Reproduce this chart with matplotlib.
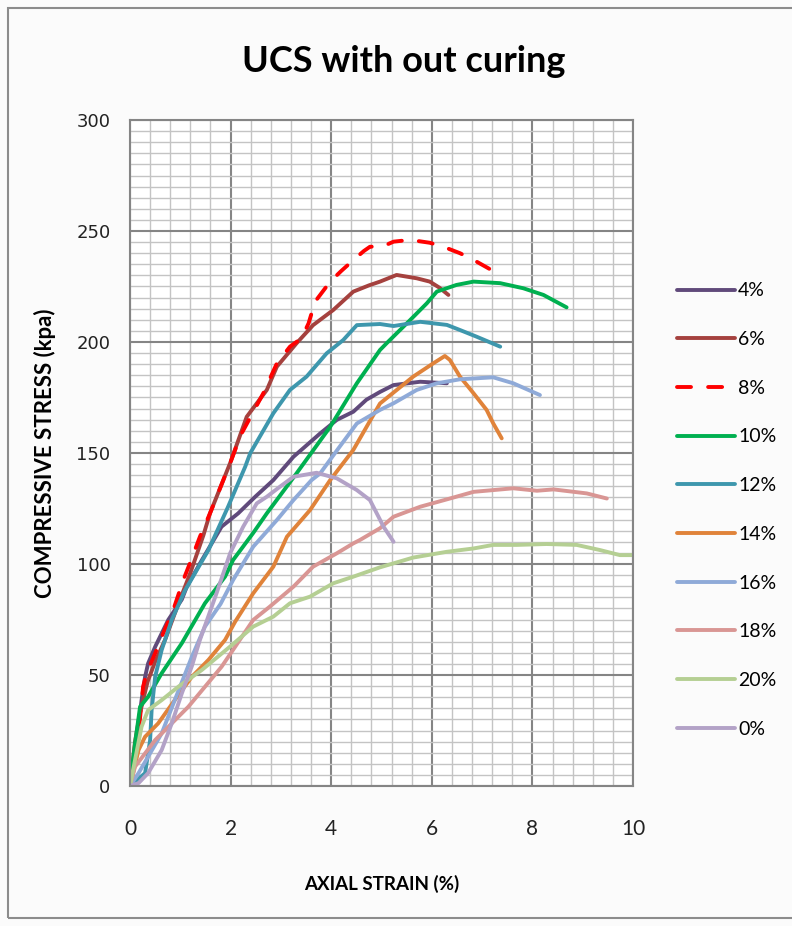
import numpy as np
import matplotlib
matplotlib.use("Agg")
import matplotlib.pyplot as plt
from matplotlib.ticker import MultipleLocator
from matplotlib.patches import Rectangle

# strain (%) / stress (kpa)
x4 = [0, 0.1, 0.23, 0.3, 0.36, 0.5, 0.76, 1.03, 1.13, 1.43, 1.82, 2.15, 2.49, 2.85, 3.25, 3.78, 4.11, 4.44, 4.7, 4.97, 5.24, 5.77, 6.3]
y4 = [0, 14.7, 38.7, 49.2, 55.2, 62.7, 74.8, 84, 89.8, 101.8, 116.8, 122.8, 130.3, 137.8, 148.3, 158.8, 164.9, 168.6, 174, 177.5, 180.6, 182.1, 181.4]
x6 = [0, 0.1, 0.2, 0.35, 0.5, 0.7, 0.96, 1.2, 1.46, 1.59, 2.0, 2.32, 2.72, 2.92, 3.31, 3.64, 4.04, 4.44, 4.75, 4.97, 5.3, 5.7, 5.96, 6.15, 6.33]
y6 = [0, 20, 33, 47, 56, 66, 82, 96, 113, 122.8, 146, 166.3, 178.4, 188.9, 199.4, 207.6, 214.4, 222.7, 225.5, 227.2, 230.2, 228.7, 227.2, 224.5, 221.2]
x8 = [0, 0.17, 0.26, 0.33, 0.5, 0.66, 0.86, 1.06, 1.19, 1.39, 1.59, 2.0, 2.2, 2.65, 2.92, 3.18, 3.41, 3.55, 3.68, 3.98, 4.2, 4.44, 4.65, 4.77, 5.04, 5.24, 5.57, 5.96, 6.23, 6.56, 6.89, 7.36]
y8 = [0, 23.8, 44.7, 50.8, 59.8, 68.8, 79.3, 92.8, 100.3, 112.3, 122.8, 146, 158, 176.9, 190.4, 197.9, 201.7, 208.4, 218.2, 227.2, 232, 236.9, 241, 242.9, 243.2, 245.2, 246, 244.7, 242.9, 240, 236.2, 230.2]
x10 = [0, 0.1, 0.2, 0.36, 0.63, 1.03, 1.49, 1.89, 2.05, 2.45, 2.72, 3.31, 3.98, 4.51, 4.97, 5.10, 5.57, 5.90, 6.10, 6.49, 6.83, 7.36, 7.82, 8.22, 8.68]
y10 = [0, 19.2, 35.7, 40.2, 50.8, 64.3, 82.3, 94.3, 101.8, 114, 122.8, 140.8, 161.8, 181.4, 196.4, 199.4, 209.9, 217.4, 222.7, 225.7, 227.2, 226.5, 224.2, 221.2, 215.6]
x12 = [0, 0.3, 0.4, 0.43, 0.5, 0.63, 0.83, 1.09, 1.56, 1.95, 2.29, 2.39, 2.85, 3.18, 3.51, 3.91, 4.24, 4.51, 4.97, 5.24, 5.77, 6.3, 6.56, 6.89, 7.36]
y12 = [0, 5.8, 20.7, 34.2, 49.2, 61.3, 74.8, 88, 106.3, 125.8, 143.8, 149.9, 167.9, 178.4, 184.4, 194.9, 200.9, 207.6, 208.1, 207.2, 209.1, 207.7, 205.4, 202.4, 197.9]
x14 = [0, 0.17, 0.3, 0.56, 0.89, 1.23, 1.56, 1.89, 2.09, 2.45, 2.85, 3.12, 3.58, 3.98, 4.44, 4.97, 5.63, 6.03, 6.26, 6.36, 6.56, 6.83, 7.09, 7.22, 7.39]
y14 = [0, 16.2, 22.2, 28.2, 38.7, 49.2, 56.8, 65.8, 74, 86.8, 98.8, 112.3, 124.3, 137.8, 151.4, 172.3, 184.4, 190.4, 193.7, 191.9, 184.4, 176.9, 169.4, 163.4, 156.6]
x16 = [0, 0.17, 0.36, 0.63, 0.89, 1.23, 1.49, 1.8, 2.05, 2.45, 2.92, 3.25, 3.61, 3.78, 4.17, 4.51, 4.97, 5.24, 5.70, 6.10, 6.56, 7.22, 7.62, 8.15]
y16 = [0, 5.8, 13.2, 23.7, 38.7, 58.2, 71.8, 82, 92.8, 107.8, 119.8, 128.8, 137.8, 140.8, 152.9, 163.3, 169.4, 172.4, 178.4, 181.4, 183.2, 184.1, 181.4, 176.1]
x18 = [0, 0.1, 0.3, 0.5, 0.83, 1.16, 1.49, 1.82, 2.09, 2.45, 2.78, 3.25, 3.64, 4.11, 4.44, 4.57, 4.97, 5.24, 5.77, 6.36, 6.83, 7.62, 8.09, 8.42, 9.08, 9.48]
y18 = [0, 8.7, 14.7, 20.7, 28.2, 35.7, 44.7, 53.7, 62.7, 74.8, 80.8, 89.8, 98.8, 104.8, 109.3, 110.8, 116.1, 121.3, 125.8, 129.5, 132.5, 134.1, 133.0, 133.6, 131.8, 129.5]
x20 = [0, 0.1, 0.23, 0.36, 0.63, 0.96, 1.43, 1.99, 2.45, 2.85, 3.18, 3.58, 4.04, 4.44, 4.97, 5.24, 5.63, 6.30, 6.83, 7.22, 7.69, 8.28, 8.88, 9.34, 9.74, 10.0]
y20 = [0, 11.7, 26.7, 34.2, 38.7, 44.7, 52.3, 62.8, 71.8, 76.3, 82.3, 85.3, 91.3, 94.3, 98.5, 100.3, 102.9, 105.5, 107, 108.6, 108.6, 109, 108.6, 106.3, 104, 104]
x0 = [0, 0.17, 0.36, 0.63, 0.83, 1.03, 1.23, 1.39, 1.72, 1.99, 2.25, 2.52, 2.72, 2.98, 3.25, 3.71, 4.11, 4.51, 4.77, 4.94, 5.04, 5.24]
y0 = [0, 1.3, 5.8, 16.2, 28.2, 41.7, 54, 65.8, 86.8, 104.8, 116.8, 127.3, 130.3, 134.8, 139.3, 141.1, 138.6, 133.3, 128.8, 121.3, 116.8, 110]

labels = ["4%", "6%", "8%", "10%", "12%", "14%", "16%", "18%", "20%", "0%"]
xs = [x4, x6, x8, x10, x12, x14, x16, x18, x20, x0]
ys = [y4, y6, y8, y10, y12, y14, y16, y18, y20, y0]
colors = ["#604A7B", "#A5413E", "#FF0000", "#00B050", "#3E97AD",
          "#E0833A", "#8FAAD8", "#D99694", "#B5CF93", "#B3A2C7"]

fig = plt.figure(figsize=(7.92, 9.26), dpi=100, facecolor="#FBFBFB")
fig.patches.append(Rectangle((8/792, 8/926), 1.0, 910/926, transform=fig.transFigure,
                             fill=False, edgecolor="#8C8C8C", linewidth=1.5))
ax = fig.add_axes([130/792, 1-786/926, 503/792, 666/926])
ax.set_facecolor("white")

for i in range(len(labels)):
    if labels[i] == "8%":
        ax.plot(xs[i], ys[i], color=colors[i], lw=2.8, label=labels[i],
                dashes=(3.6, 4.4), dash_capstyle="round", solid_capstyle="round")
    else:
        ax.plot(xs[i], ys[i], color=colors[i], lw=2.8, label=labels[i],
                solid_capstyle="round", solid_joinstyle="round")

ax.set_xlim(0, 10)
ax.set_ylim(0, 300)
ax.xaxis.set_major_locator(MultipleLocator(2))
ax.xaxis.set_minor_locator(MultipleLocator(0.4))
ax.yaxis.set_major_locator(MultipleLocator(50))
ax.yaxis.set_minor_locator(MultipleLocator(5))
ax.grid(which="minor", color="#C4C4C4", lw=1.0)
ax.grid(which="major", color="#858585", lw=1.5)
ax.set_axisbelow(True)
for s in ax.spines.values():
    s.set_color("#858585")
    s.set_linewidth(1.5)
ax.tick_params(which="both", length=0)
ax.tick_params(axis="y", pad=14, labelsize=13, colors="#222222")
ax.tick_params(axis="x", pad=24, labelsize=15, colors="#222222")
for t in ax.get_xticklabels():
    t.set_fontfamily("Lato")

ax.set_xlabel("AXIAL STRAIN (%)", fontfamily="Lato", fontweight="bold", fontsize=13.5)
ax.xaxis.set_label_coords(0.5, -89/666)
ax.set_ylabel("COMPRESSIVE STRESS (kpa)", fontfamily="Lato", fontweight="bold", fontsize=16)
ax.yaxis.set_label_coords(-74/503, 0.5)
fig.text(404/792, 1-62/926, "UCS with out curing", ha="center", va="center",
         fontfamily="Lato", fontweight="bold", fontsize=26)

leg = fig.legend(loc="center left", bbox_to_anchor=(677/792, 1-510/926), frameon=False,
                 prop={"family": "Lato", "size": 14}, handlelength=3.0, handletextpad=0.15,
                 labelspacing=1.63, borderpad=0, borderaxespad=0)

fig.savefig("out.png", dpi=100, facecolor=fig.get_facecolor())
